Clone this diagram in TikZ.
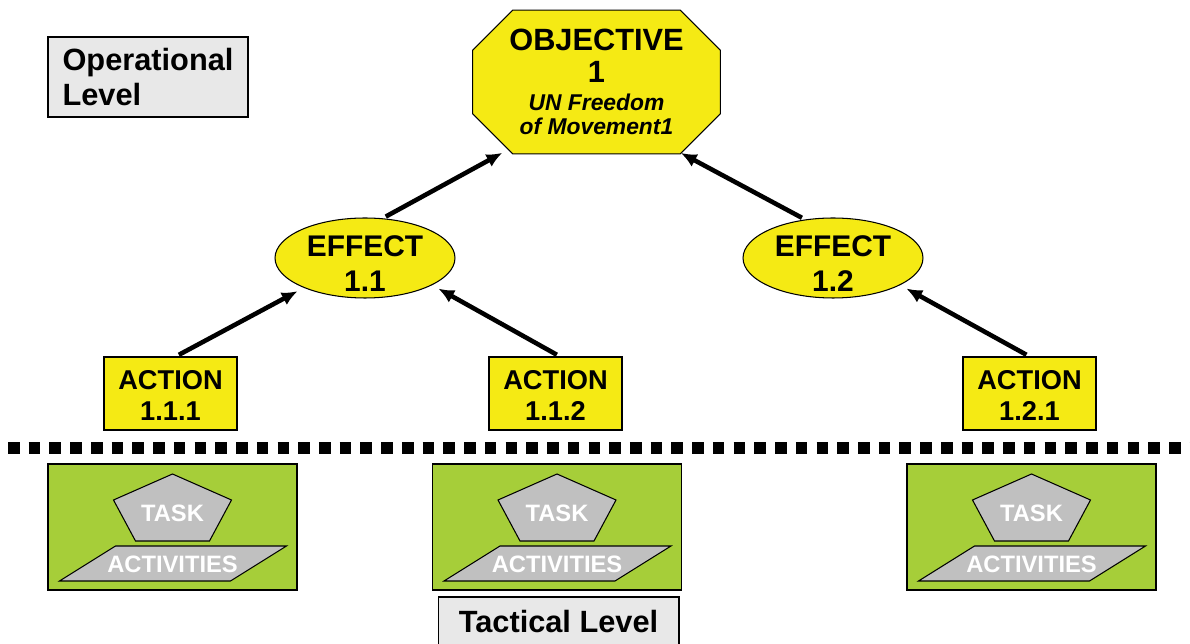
\documentclass[tikz,border=0pt]{standalone}
\usepackage{fontspec}
\setmainfont{Liberation Sans}
\usepackage{xcolor}
\usetikzlibrary{shapes.geometric,arrows.meta,calc,backgrounds}
\definecolor{objyellow}{RGB}{245,234,20}
\definecolor{workgreen}{RGB}{166,206,57}
\definecolor{shapegray}{RGB}{192,192,192}
\definecolor{levelgray}{RGB}{232,232,232}

\begin{document}
\begin{tikzpicture}[x=0.02cm, y=-0.02cm,
levelbox/.style={draw, fill=levelgray, line width=0.6pt, inner sep=0, font=\bfseries\fontsize{17.5}{20}\selectfont},
objbox/.style={minimum width=4.94cm, minimum height=2.86cm, inner sep=0, align=center, font=\bfseries\fontsize{17.5}{18}\selectfont},
objshape/.style={draw, fill=objyellow, line width=0.6pt},
effectbox/.style={draw, fill=objyellow, line width=0.6pt, ellipse, minimum width=3.6cm, minimum height=1.6cm, inner xsep=0, inner ysep=-3pt, text height=37.8pt, align=center, font=\bfseries\fontsize{17}{20}\selectfont},
actionbox/.style={draw, fill=objyellow, line width=0.6pt, minimum width=2.66cm, minimum height=1.46cm, inner sep=0, text height=30.9pt, align=center, font=\bfseries\fontsize{15.5}{17.5}\selectfont},
workbox/.style={draw, fill=workgreen, line width=0.8pt, minimum width=4.98cm, minimum height=2.52cm},
grayshape/.style={draw, fill=shapegray, line width=0.6pt},
shapetext/.style={text=white, inner sep=0, font=\bfseries\fontsize{13.5}{15}\selectfont},
arrow/.style={-{Latex[length=9pt,width=8pt]}, line width=2.6pt, shorten >=4pt, shorten <=2pt},
levelline/.style={line width=6.4pt, dash pattern=on 6.6pt off 5.2pt}]
\useasboundingbox (0,0) rectangle (1190,644);
%levels
\node[levelbox, minimum width=4cm, minimum height=1.6cm, align=left] (ol) at (148,77) {Operational\\Level};
\node[levelbox, minimum width=4.82cm, minimum height=1cm] (tl) at (558.5,622) {Tactical Level};
\draw[levelline] (8,448) -- (1190,448);
%objective, effects, actions
\node[objbox] (obj) at (596.5,82) {OBJECTIVE\\1\\[-2pt]\textit{\fontsize{13}{14}\selectfont UN Freedom}\\[-4pt]\textit{\fontsize{13}{14}\selectfont of Movement1}};
\begin{scope}[on background layer]
\draw[objshape] ($(obj.north west)+(40,0)$) -- ($(obj.north east)+(-40,0)$) -- ($(obj.north east)+(0,40)$) -- ($(obj.south east)+(0,-40)$) -- ($(obj.south east)+(-40,0)$) -- ($(obj.south west)+(40,0)$) -- ($(obj.south west)+(0,-40)$) -- ($(obj.north west)+(0,40)$) -- cycle;
\end{scope}
\node[effectbox] (e1) at (365,258) {EFFECT\\1.1};
\node[effectbox] (e2) at (833,258) {EFFECT\\1.2};
\node[actionbox] (a1) at (170.5,393.5) {ACTION\\1.1.1};
\node[actionbox] (a2) at (555.5,393.5) {ACTION\\1.1.2};
\node[actionbox] (a3) at (1029.5,393.5) {ACTION\\1.2.1};
\draw ([xshift=3pt]a1.north) edge[arrow] (e1.206);
\draw ([xshift=2.5pt]a2.north) edge[arrow] (e1.338);
\draw (a3.north) edge[arrow] (e2.338);
\draw (e1.66) edge[arrow] ([xshift=20.4pt,yshift=2.5pt]obj.south west);
\draw (e2.126) edge[arrow] ([xshift=-26pt,yshift=2.4pt]obj.south east);
%tasks
\node[workbox] (g1) at (172.5,527) {};
\node[workbox] (g2) at (557,527) {};
\node[workbox] (g3) at (1031.5,527) {};
\draw[grayshape] ($(g1)+(0,-53)$) -- ($(g1)+(59,-27)$) -- ($(g1)+(37,14)$) -- ($(g1)+(-37,14)$) -- ($(g1)+(-59,-27)$) -- cycle;
\draw[grayshape] ($(g1)+(-57,19)$) -- ($(g1)+(114,19)$) -- ($(g1)+(58,54)$) -- ($(g1)+(-113,54)$) -- cycle;
\draw[grayshape] ($(g2)+(0,-53)$) -- ($(g2)+(59,-27)$) -- ($(g2)+(37,14)$) -- ($(g2)+(-37,14)$) -- ($(g2)+(-59,-27)$) -- cycle;
\draw[grayshape] ($(g2)+(-57,19)$) -- ($(g2)+(114,19)$) -- ($(g2)+(58,54)$) -- ($(g2)+(-113,54)$) -- cycle;
\draw[grayshape] ($(g3)+(0,-53)$) -- ($(g3)+(59,-27)$) -- ($(g3)+(37,14)$) -- ($(g3)+(-37,14)$) -- ($(g3)+(-59,-27)$) -- cycle;
\draw[grayshape] ($(g3)+(-57,19)$) -- ($(g3)+(114,19)$) -- ($(g3)+(58,54)$) -- ($(g3)+(-113,54)$) -- cycle;
\node[shapetext] (t1) at ($(g1)+(0,-14)$) {TASK};
\node[shapetext] (c1) at ($(g1)+(0,37)$) {ACTIVITIES};
\node[shapetext] (t2) at ($(g2)+(0,-14)$) {TASK};
\node[shapetext] (c2) at ($(g2)+(0,37)$) {ACTIVITIES};
\node[shapetext] (t3) at ($(g3)+(0,-14)$) {TASK};
\node[shapetext] (c3) at ($(g3)+(0,37)$) {ACTIVITIES};
\end{tikzpicture}
\end{document}
